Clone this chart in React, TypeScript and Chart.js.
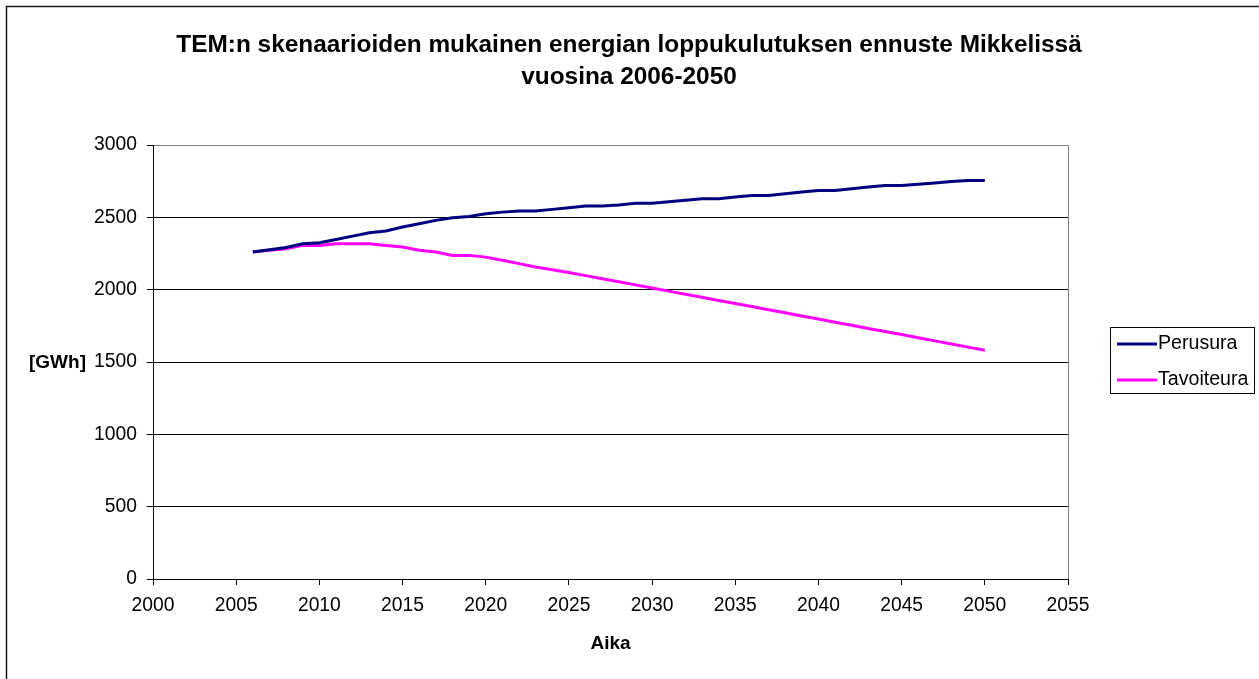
import React, { useEffect, useRef } from "react";
import { Chart, registerables } from "chart.js";

Chart.register(...registerables);

const TITLE_LINES = [
  "TEM:n skenaarioiden mukainen energian loppukulutuksen ennuste Mikkelissä",
  "vuosina 2006-2050",
];
const X_TITLE = "Aika";
const Y_TITLE = "[GWh]";
const SERIES_LABELS = ["Perusura", "Tavoiteura"];
const SERIES_COLORS = ["#000080", "#FF00FF"];

const YEARS = [
  2006, 2007, 2008, 2009, 2010, 2011, 2012, 2013, 2014, 2015,
  2016, 2017, 2018, 2019, 2020, 2021, 2022, 2023, 2024, 2025,
  2026, 2027, 2028, 2029, 2030, 2031, 2032, 2033, 2034, 2035,
  2036, 2037, 2038, 2039, 2040, 2041, 2042, 2043, 2044, 2045,
  2046, 2047, 2048, 2049, 2050,
];

const PERUSURA = [
  2260, 2276, 2292, 2318, 2325, 2347, 2370, 2394, 2405, 2433,
  2456, 2479, 2497, 2506, 2525, 2536, 2543, 2543, 2555, 2566,
  2578, 2578, 2586, 2597, 2597, 2608, 2618, 2628, 2628, 2640,
  2651, 2651, 2663, 2675, 2686, 2686, 2697, 2709, 2720, 2720,
  2729, 2738, 2747, 2755, 2755,
];

const TAVOITEURA = [
  2260, 2272, 2283, 2306, 2306, 2318, 2318, 2318, 2306, 2295,
  2272, 2260, 2237, 2237, 2225, 2203, 2180, 2157, 2138, 2118,
  2097, 2076, 2055, 2033, 2011, 1990, 1968, 1947, 1925, 1904,
  1883, 1861, 1840, 1818, 1797, 1775, 1754, 1732, 1711, 1690,
  1668, 1646, 1625, 1603, 1581,
];

const X_MIN = 2000;
const X_MAX = 2055;
const X_STEP = 5;
const Y_MIN = 0;
const Y_MAX = 3000;
const Y_STEP = 500;

const W = 1259;
const H = 679;
const FONT = "'Liberation Sans', Arial, Helvetica, sans-serif";

const decorPlugin = {
  id: "decor",
  afterDraw(chart: any) {
    const ctx = chart.ctx;
    const area = chart.chartArea;
    ctx.save();
    // outer frame (top and left visible)
    ctx.strokeStyle = "#1a1a1a";
    ctx.lineWidth = 1.5;
    ctx.beginPath();
    ctx.moveTo(6.5, H + 2);
    ctx.lineTo(6.5, 6.5);
    ctx.lineTo(W + 2, 6.5);
    ctx.stroke();

    // title
    ctx.fillStyle = "#000";
    ctx.textAlign = "center";
    ctx.textBaseline = "middle";
    ctx.font = `bold 24.4px ${FONT}`;
    ctx.fillText(TITLE_LINES[0], 629, 45);
    ctx.fillText(TITLE_LINES[1], 629, 77);

    // axis titles
    ctx.font = `bold 19px ${FONT}`;
    ctx.fillText(Y_TITLE, 57.5, (area.top + area.bottom) / 2 + 0.5);
    ctx.fillText(X_TITLE, (area.left + area.right) / 2, 644);

    // right border of plot area
    ctx.strokeStyle = "#808080";
    ctx.lineWidth = 1;
    ctx.beginPath();
    ctx.moveTo(Math.round(area.right) + 0.5, area.top);
    ctx.lineTo(Math.round(area.right) + 0.5, area.bottom);
    ctx.stroke();

    // legend
    const lx = 1110.5, ly = 327.5, lw = 144, lh = 66;
    ctx.strokeStyle = "#000";
    ctx.lineWidth = 1;
    ctx.strokeRect(lx, ly, lw, lh);
    ctx.font = `19.6px ${FONT}`;
    ctx.textAlign = "left";
    chart.data.datasets.forEach((ds: any, i: number) => {
      const y = 344 + i * 36;
      ctx.strokeStyle = ds.borderColor;
      ctx.lineWidth = 3;
      ctx.beginPath();
      ctx.moveTo(1117, y);
      ctx.lineTo(1157, y);
      ctx.stroke();
      ctx.fillStyle = "#000";
      ctx.fillText(ds.label, 1158, y);
    });
    ctx.restore();
  },
};

export default function App() {
  const ref = useRef<HTMLCanvasElement | null>(null);

  useEffect(() => {
    document.body.style.margin = "0";
    const canvas = ref.current;
    if (!canvas) return;
    const seriesValues = [PERUSURA, TAVOITEURA];
    const chart = new Chart(canvas, {
      type: "line",
      data: {
        datasets: seriesValues.map((vals, i) => ({
          label: SERIES_LABELS[i],
          data: YEARS.map((yr, j) => ({ x: yr, y: vals[j] })),
          borderColor: SERIES_COLORS[i],
          backgroundColor: SERIES_COLORS[i],
          borderWidth: 3,
          pointRadius: 0,
          tension: 0,
          fill: false,
        })),
      },
      options: {
        animation: false,
        responsive: false,
        maintainAspectRatio: false,
        devicePixelRatio: 1,
        layout: { padding: { top: 145, right: 191, bottom: 0, left: 0 } },
        plugins: {
          legend: { display: false },
          title: { display: false },
          tooltip: { enabled: false },
        },
        scales: {
          x: {
            type: "linear",
            min: X_MIN,
            max: X_MAX,
            afterFit(scale: any) {
              scale.height = H - 579;
            },
            ticks: {
              stepSize: X_STEP,
              color: "#000",
              font: { family: FONT, size: 19.3 },
              padding: 9,
              maxRotation: 0,
              autoSkip: false,
              callback: (v: any) => String(v),
            },
            grid: {
              drawOnChartArea: false,
              drawTicks: true,
              tickLength: 6,
              color: "#000",
              tickColor: "#000",
            },
            border: { display: true, color: "#000", width: 1 },
          },
          y: {
            min: Y_MIN,
            max: Y_MAX,
            afterFit(scale: any) {
              scale.width = 153;
            },
            ticks: {
              stepSize: Y_STEP,
              color: "#000",
              font: { family: FONT, size: 19.3 },
              padding: 10,
              callback: (v: any) => String(v),
            },
            grid: {
              drawOnChartArea: true,
              drawTicks: true,
              tickLength: 6,
              color: (c: any) => (c.tick && c.tick.value === Y_MAX ? "#808080" : c.tick && c.tick.value === Y_MIN ? "rgba(0,0,0,0)" : "#000"),
              tickColor: "#000",
              lineWidth: 1,
            },
            border: { display: true, color: "#000", width: 1 },
          },
        },
      },
      plugins: [decorPlugin],
    });
    return () => chart.destroy();
  }, []);

  return (
    <div style={{ width: W, height: H, position: "relative", background: "#fff" }}>
      <canvas ref={ref} width={W} height={H} style={{ display: "block", width: W, height: H }} />
    </div>
  );
}
